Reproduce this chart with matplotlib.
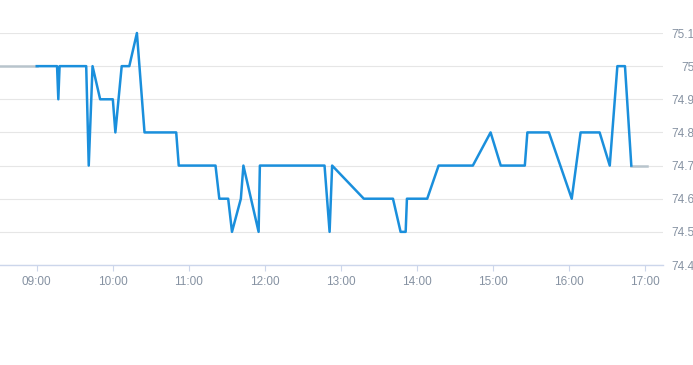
import numpy as np
import matplotlib
matplotlib.use('Agg')
import matplotlib.pyplot as plt
import matplotlib.dates as mdates
import pandas as pd

day = '2024-01-02 '

# previous-session reference (grey)
pre_times = ['08:31', '09:00']
pre_values = [75.0, 75.0]

times = ['09:00', '09:16', '09:17', '09:18', '09:39', '09:41', '09:44', '09:50',
         '10:00', '10:02', '10:07', '10:13', '10:19', '10:25', '10:50', '10:52',
         '11:21', '11:24', '11:31', '11:34', '11:41', '11:43', '11:55', '11:56',
         '12:47', '12:51', '12:53', '13:18', '13:41', '13:47', '13:51', '13:52',
         '14:08', '14:17', '14:44', '14:58', '15:06', '15:25', '15:27', '15:44',
         '16:02', '16:09', '16:24', '16:32', '16:38', '16:44', '16:49']
values = [75.0, 75.0, 74.9, 75.0, 75.0, 74.7, 75.0, 74.9,
          74.9, 74.8, 75.0, 75.0, 75.1, 74.8, 74.8, 74.7,
          74.7, 74.6, 74.6, 74.5, 74.6, 74.7, 74.5, 74.7,
          74.7, 74.5, 74.7, 74.6, 74.6, 74.5, 74.5, 74.6,
          74.6, 74.7, 74.7, 74.8, 74.7, 74.7, 74.8, 74.8,
          74.6, 74.8, 74.8, 74.7, 75.0, 75.0, 74.7]

post_times = ['16:49', '17:01']
post_values = [74.7, 74.7]

y_ticks = [74.4, 74.5, 74.6, 74.7, 74.8, 74.9, 75.0, 75.1]
y_labels = ['74.4', '74.5', '74.6', '74.7', '74.8', '74.9', '75', '75.1']
x_ticks = ['09:00', '10:00', '11:00', '12:00', '13:00', '14:00', '15:00', '16:00', '17:00']


def ts(lst):
    return pd.to_datetime([day + t for t in lst])


plt.rcParams['font.family'] = ['Liberation Sans', 'DejaVu Sans']
label_color = '#8692a2'

fig = plt.figure(figsize=(6.93, 3.65), dpi=100)
ax = fig.add_axes([0, 100 / 365, 663 / 693, 232 / 365])

ax.plot(ts(pre_times), pre_values, color='#b8c4cc', lw=1.8, clip_on=False)
ax.plot(ts(post_times), post_values, color='#b8c4cc', lw=1.8, clip_on=False)
ax.plot(ts(times), values, color='#1a8fdc', lw=1.8, clip_on=False, zorder=3)

ax.set_xlim(pd.Timestamp(day + '08:31'), pd.Timestamp(day + '17:14'))
ax.set_ylim(74.4, 75.1)

ax.set_yticks(y_ticks)
ax.set_yticklabels(y_labels)
ax.yaxis.tick_right()
ax.tick_params(axis='y', length=0, pad=22.5, labelsize=8.5, labelcolor=label_color)
for lab in ax.get_yticklabels():
    lab.set_horizontalalignment('right')

ax.set_xticks(ts(x_ticks))
ax.xaxis.set_major_formatter(mdates.DateFormatter('%H:%M'))
ax.tick_params(axis='x', length=4, width=0.8, color='#ccd6eb', pad=4,
               labelsize=8.5, labelcolor=label_color)

ax.grid(axis='y', color='#e6e6e6', lw=0.8)
ax.set_axisbelow(True)
for side in ['top', 'left', 'right']:
    ax.spines[side].set_visible(False)
ax.spines['bottom'].set_color('#ccd6eb')
ax.spines['bottom'].set_linewidth(1)

fig.savefig('out.png', dpi=100)
